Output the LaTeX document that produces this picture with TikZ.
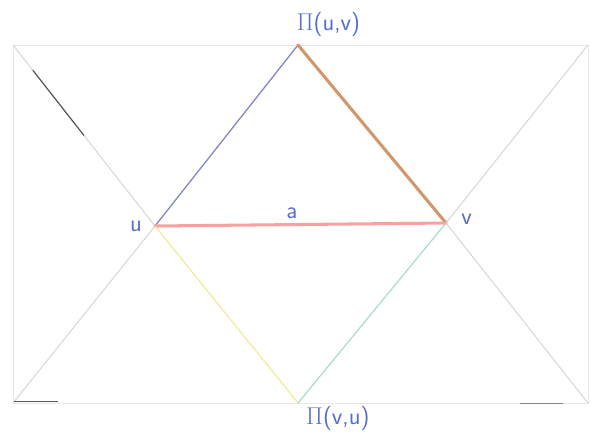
\documentclass[tikz,border=0pt]{standalone}
\usetikzlibrary{positioning, calc}
\definecolor{penblue}{RGB}{88,112,204}
\definecolor{edgegray}{RGB}{212,212,212}
\definecolor{inkdark}{RGB}{85,85,85}
\definecolor{linkblue}{RGB}{130,135,195}
\definecolor{linkbrown}{RGB}{210,150,105}
\definecolor{linkred}{RGB}{250,160,160}
\definecolor{linkyellow}{RGB}{238,238,150}
\definecolor{linkgreen}{RGB}{175,222,195}

\begin{document}
\begin{tikzpicture}[x=0.03cm, y=-0.03cm,
    frame/.style={draw=edgegray!55, line width=0.6pt},
    guide/.style={draw=edgegray, line width=0.8pt},
    link/.style={line width=1.1pt, line cap=round},
    thicklink/.style={line width=2.6pt, line cap=round},
    label/.style={text=penblue, font=\huge\sffamily, inner sep=1pt}
]
\useasboundingbox (0,0) rectangle (591,437);
% corners and meeting points
\coordinate (tl) at (13,45);
\coordinate (tr) at (588,45);
\coordinate (bl) at (13,403);
\coordinate (br) at (588,403);
\coordinate (top) at (298,45);
\coordinate (bot) at (298,403);
\coordinate (u) at (155,226);
\coordinate (v) at (446,223);
% outer frame
\draw[frame] (tl) rectangle (br);
% grey guide lines
\draw[guide] (tl) -- (u);
\draw[guide] (u) -- (bl);
\draw[guide] (v) -- (tr);
\draw[guide] (v) -- (br);
\draw[inkdark, line width=1pt] ($(tl)!0.14!(u)$) -- ($(tl)!0.5!(u)$);
\draw[inkdark, line width=0.7pt] (14,401) -- (58,401);
\draw[inkdark!70, line width=0.6pt] (520,403) -- (563,403);
% coloured links
\draw[link, linkblue] (top) -- (u);
\draw[thicklink, linkbrown] (top) -- (v);
\draw[thicklink, linkred] (u) -- (v);
\draw[link, linkyellow] (u) -- (bot);
\draw[link, linkgreen] (bot) -- (v);
% labels
\node[label, above=6pt of top, xshift=26] (ltop) {$\Pi$(u,v)};
\node[label, below=2pt of bot, xshift=34] (lbot) {$\Pi$(v,u)};
\node[label, left=10pt of u] (lu) {u};
\node[label, right=12pt of v, yshift=3] (lv) {v};
\node[label, above=4pt of $(u)!0.47!(v)$] (la) {a};
\end{tikzpicture}
\end{document}
